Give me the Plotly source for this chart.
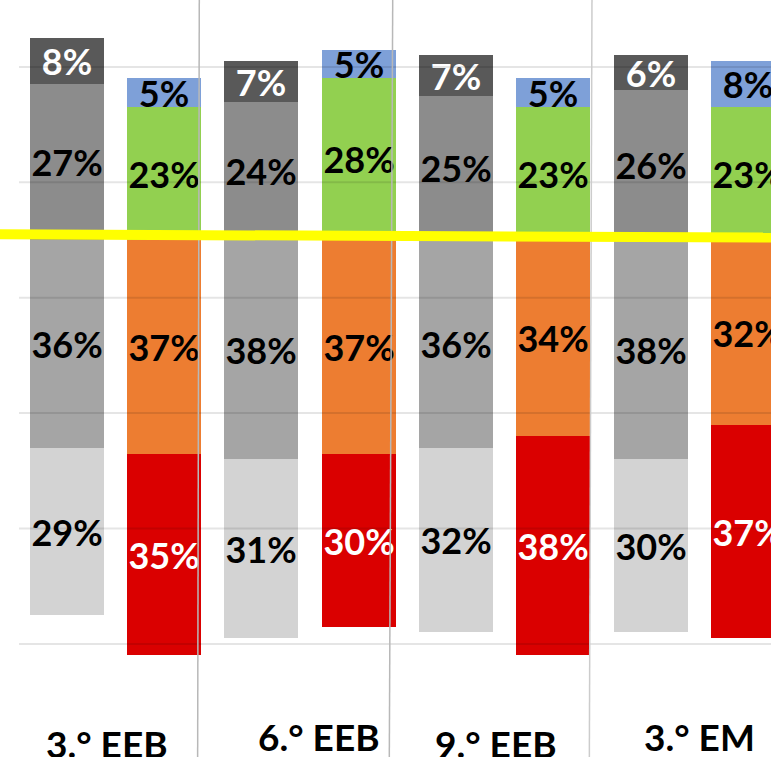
import plotly.graph_objects as go

# ---------------- data ----------------
groups = ["3.° EEB", "6.° EEB", "9.° EEB", "3.° EM"]

gray_light = [29, 31, 32, 30]    # below centre, outer
gray_mid = [36, 38, 36, 38]      # below centre, inner
gray_dark = [27, 24, 25, 26]     # above centre, inner
gray_darkest = [8, 7, 7, 6]      # above centre, outer

red = [35, 30, 38, 37]           # below centre, outer
orange = [37, 37, 34, 32]        # below centre, inner
green = [23, 28, 23, 23]         # above centre, inner
blue = [5, 5, 5, 8]              # above centre, outer

grid_values = [30, 10, -10, -30, -50, -70]

# ---------------- style / layout constants ----------------
W, H = 771, 757
ML = 19
FONT = "Lato"
BAR_W = 0.76
X_RANGE = [-0.491, 7.238]
Y_RANGE = [-89.6, 41.6]

gray_x = [2 * i for i in range(len(groups))]
col_x = [2 * i + 1 for i in range(len(groups))]

fig = go.Figure()


def add(xs, vals, sign, color, tcolor):
    fig.add_trace(go.Bar(
        x=xs,
        y=[sign * v for v in vals],
        width=BAR_W,
        marker=dict(color=color, line=dict(width=0)),
        text=[f"{v}%" for v in vals],
        textposition="inside",
        insidetextanchor="middle",
        constraintext="none",
        textangle=0,
        textfont=dict(family=FONT, size=36, color=tcolor, weight="bold"),
        hoverinfo="skip",
        showlegend=False,
    ))


# gray bars (inner segments first so they sit against the centre)
add(gray_x, gray_mid, -1, "#a5a5a5", "black")
add(gray_x, gray_light, -1, "#d3d3d3", "black")
add(gray_x, gray_dark, 1, "#8c8c8c", "black")
add(gray_x, gray_darkest, 1, "#595959", "white")

# coloured bars
add(col_x, orange, -1, "#ed7d31", "black")
add(col_x, red, -1, "#da0000", "white")
add(col_x, green, 1, "#92d050", "black")
add(col_x, blue, 1, "#7ea0d8", "black")

shapes = []
# gridlines drawn over the bars, faint
for g in grid_values:
    shapes.append(dict(type="line", xref="paper", yref="y", x0=0, x1=1, y0=g, y1=g,
                       line=dict(color="rgba(0,0,0,0.10)", width=2), layer="above"))

# thin separators (slightly slanted, hand-drawn look)
separators = [((1.345, 1.362), "#b8b8b8"), ((3.315, 3.350), "#b8b8b8"), ((5.371, 5.398), "#cccccc")]
for (xb, xt), c in separators:
    shapes.append(dict(type="line", xref="x", yref="paper", x0=xb, x1=xt, y0=0, y1=1,
                       line=dict(color=c, width=1.5), layer="above"))

# yellow centre line
shapes.append(dict(type="line", xref="paper", yref="y", x0=-ML / (W - ML), x1=1,
                   y0=0.99, y1=0.43, line=dict(color="#ffff00", width=10), layer="above"))

# category labels (alternating heights, as in the original)
label_shift = [-8.7, 9.0, -8.8, 0.5]
label_y_px = [743, 736, 743, 736]
annotations = []
for i, g in enumerate(groups):
    annotations.append(dict(
        text=g, xref="x", yref="paper",
        x=2 * i + 0.5, xshift=label_shift[i],
        y=1 - label_y_px[i] / H,
        xanchor="center", yanchor="middle", showarrow=False,
        font=dict(family=FONT, size=37, color="black", weight="bold"),
    ))

fig.update_layout(
    width=W, height=H,
    margin=dict(l=ML, r=0, t=0, b=0),
    paper_bgcolor="white", plot_bgcolor="white",
    barmode="relative",
    bargap=0,
    xaxis=dict(range=X_RANGE, visible=False, fixedrange=True),
    yaxis=dict(range=Y_RANGE, showgrid=False, zeroline=False, showticklabels=False,
               showline=False, ticks="", fixedrange=True),
    shapes=shapes,
    annotations=annotations,
    showlegend=False,
)

fig.write_html(
    "out.html",
    config={"displayModeBar": False},
    post_script="document.body.style.margin='0px';document.body.style.overflow='hidden';",
)
